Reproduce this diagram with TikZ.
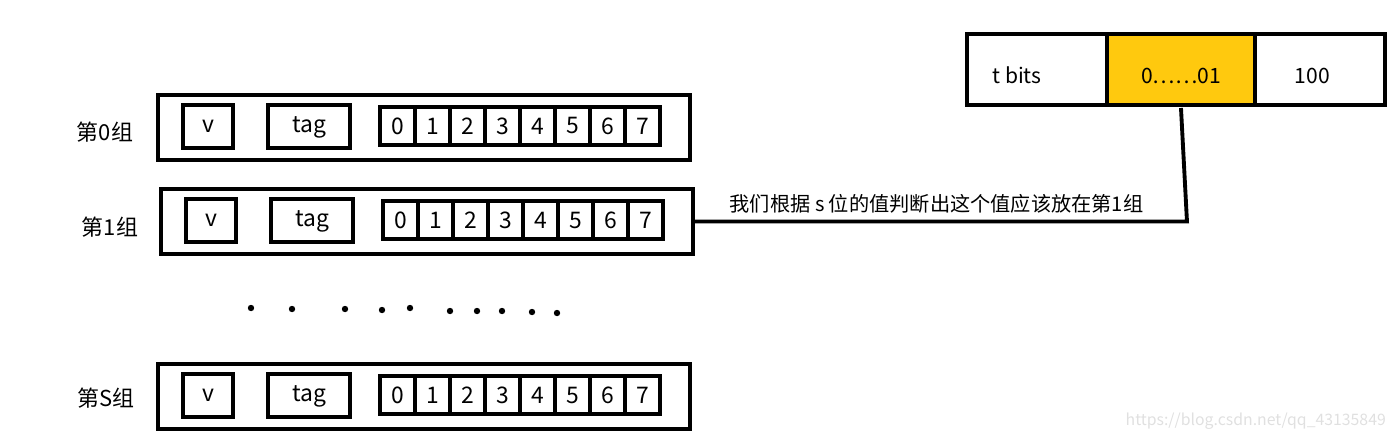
\documentclass[tikz,border=0pt]{standalone}
\usepackage{fontspec}
\setmainfont{Noto Sans CJK SC}
\usepackage{tikz}
\usetikzlibrary{positioning}
\definecolor{paintyellow}{RGB}{255,201,14}
\tikzset{
  grpbox/.style={shape=rectangle,draw=black,line width=2.2pt,minimum width=10.64cm,minimum height=1.3cm},
  fldbox/.style={shape=rectangle,draw=black,line width=2pt,minimum height=0.86cm,text height=1.6ex,text depth=0.3ex,font=\fontsize{13}{15}\selectfont},
  bitbox/.style={shape=rectangle,draw=black,line width=2pt,minimum width=0.7cm,minimum height=0.76cm,inner sep=0pt,font=\fontsize{13}{15}\selectfont},
  addrbox/.style={shape=rectangle,draw=black,line width=2.2pt,outer sep=0pt,minimum height=1.42cm,inner sep=0pt,text height=0.56cm,text depth=0pt,font=\fontsize{12}{14}\selectfont},
  grplabel/.style={font=\fontsize{12.5}{15}\selectfont}
}
\begin{document}
\begin{tikzpicture}[x=0.02cm,y=-0.02cm]
      \useasboundingbox (0,0) rectangle (1399,440);
      % group 0
      \begin{scope}
        \node[grplabel] (l0) at (105,132) {第0组};
        \node[grpbox] (g0) at (424,127.5) {};
        \node[fldbox,minimum width=1cm] (v0) at (208,126.5) {v};
        \node[fldbox,minimum width=1.64cm] (t0) at (309,126.5) {tag};
        \foreach \i in {0,...,7}
          \node[bitbox] (b0\i) at (397.5+35*\i,126) {\i};
      \end{scope}
      % group 1
      \begin{scope}[shift={(3,94)}]
        \node[grplabel] (l1) at (107,133) {第1组};
        \node[grpbox] (g1) at (424,127.5) {};
        \node[fldbox,minimum width=1cm] (v1) at (208,126.5) {v};
        \node[fldbox,minimum width=1.64cm] (t1) at (309,126.5) {tag};
        \foreach \i in {0,...,7}
          \node[bitbox] (b1\i) at (397.5+35*\i,126) {\i};
      \end{scope}
      % group S
      \begin{scope}[shift={(0,269)}]
        \node[grplabel] (ls) at (106,129) {第S组};
        \node[grpbox] (gs) at (424,127.5) {};
        \node[fldbox,minimum width=1cm] (vs) at (208,126.5) {v};
        \node[fldbox,minimum width=1.64cm] (ts) at (309,126.5) {tag};
        \foreach \i in {0,...,7}
          \node[bitbox] (bs\i) at (397.5+35*\i,126) {\i};
      \end{scope}
      % dots between groups
      \foreach \x/\y in {251/308,292/309,345/309,382/310,410/308,450/311,477/311,502/311,532/312,557/313}
        \fill (\x,\y) circle (3.2);
      % address
      \node[addrbox,minimum width=2.8cm] (tag) at (1037,69.5) {\hspace*{-0.8cm}t bits};
      \node[addrbox,minimum width=2.96cm,fill=paintyellow,right=0pt of tag] (set) {0\textellipsis\textellipsis01};
      \node[addrbox,minimum width=2.6cm,right=0pt of set] (off) {\hspace*{-0.3cm}100};
      \draw[line width=2.2pt] (set.south west) -- +(0,-8);
      \draw[line width=2.2pt] (set.south east) -- +(0,-3);
      % set -> group 1
      \coordinate (turn) at ([xshift=0.12cm]set.south |- g1.east);
      \draw[line width=2.2pt] ([yshift=-0.06cm]set.south) -- (turn) -- (g1.east);
      \node[font=\fontsize{11.5}{13}\selectfont,above=1pt of turn,anchor=south east,xshift=-0.75cm] (note) {我们根据 s 位的值判断出这个值应该放在第1组};
      \node[text=black!12,font=\fontsize{9}{11}\selectfont,anchor=east] (wm) at (1392,421) {https://blog.csdn.net/qq\_43135849};
    \end{tikzpicture}
\end{document}
